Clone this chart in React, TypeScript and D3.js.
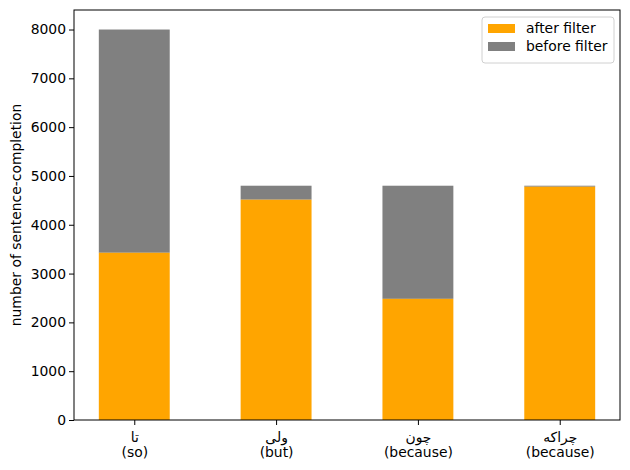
import React, { useEffect, useRef } from 'react';
import * as d3 from 'd3';

const words = ['تا', 'ولی', 'چون', 'چراکه'];
const glosses = ['(so)', '(but)', '(because)', '(because)'];
const afterFilter = [3426, 4513, 2482, 4779];
const beforeFilter = [8000, 4800, 4800, 4800];
const yTicks = [0, 1000, 2000, 3000, 4000, 5000, 6000, 7000, 8000];

const width = 630;
const height = 470;
const marginTop = 10;
const marginRight = 10;
const marginBottom = 50;
const marginLeft = 74;
const font = 'DejaVu Sans, sans-serif';
const fs = '13.9px';

const App = () => {
  const ref = useRef<SVGSVGElement>(null);

  useEffect(() => {
    document.body.style.margin = '0';
    const svg = d3.select(ref.current);
    svg.selectAll('*').remove();

    const idx = words.map((_, i) => i);
    const x = d3.scaleLinear()
      .domain([-0.425, 3.425])
      .range([marginLeft, width - marginRight]);
    const barW = x(0.5) - x(0);

    const y = d3.scaleLinear()
      .domain([0, 8400])
      .range([height - marginBottom, marginTop]);

    // gray: the part removed by the filter
    svg.append('g')
      .attr('fill', '#808080')
      .selectAll('rect')
      .data(idx)
      .join('rect')
      .attr('x', i => x(i) - barW / 2)
      .attr('width', barW)
      .attr('y', i => y(beforeFilter[i]))
      .attr('height', i => y(afterFilter[i]) - y(beforeFilter[i]));

    svg.append('g')
      .attr('fill', '#ffa500')
      .selectAll('rect')
      .data(idx)
      .join('rect')
      .attr('x', i => x(i) - barW / 2)
      .attr('width', barW)
      .attr('y', i => y(afterFilter[i]))
      .attr('height', i => y(0) - y(afterFilter[i]));

    const yAxis = svg.append('g')
      .attr('transform', `translate(${marginLeft},0)`)
      .call(d3.axisLeft(y).tickValues(yTicks).tickFormat(d3.format('d')).tickSize(5).tickPadding(3).tickSizeOuter(0));
    yAxis.select('.domain').remove();
    yAxis.selectAll('text').style('font-family', font).style('font-size', fs).attr('fill', '#000');

    const xAxis = svg.append('g')
      .attr('transform', `translate(0,${height - marginBottom})`)
      .call(d3.axisBottom(x).tickValues(idx).tickSize(5).tickFormat(() => ''));
    xAxis.select('.domain').remove();
    xAxis.selectAll('.tick').each(function (d) {
      const t = d3.select(this).append('text')
        .attr('fill', '#000')
        .attr('text-anchor', 'middle')
        .style('font-family', font)
        .style('font-size', fs);
      t.append('tspan').attr('x', 0).attr('y', 22).text(words[d as number]);
      t.append('tspan').attr('x', 0).attr('y', 37).text(glosses[d as number]);
    });

    svg.append('rect')
      .attr('x', marginLeft)
      .attr('y', marginTop)
      .attr('width', width - marginLeft - marginRight)
      .attr('height', height - marginTop - marginBottom)
      .attr('fill', 'none')
      .attr('stroke', '#000')
      .attr('stroke-width', 1);

    svg.append('text')
      .attr('transform', `translate(21,${(marginTop + height - marginBottom) / 2}) rotate(-90)`)
      .attr('text-anchor', 'middle')
      .style('font-family', font)
      .style('font-size', fs)
      .text('number of sentence-completion');

    // legend
    const lg = svg.append('g').attr('transform', 'translate(482,17)');
    lg.append('rect')
      .attr('width', 132).attr('height', 46).attr('rx', 3)
      .attr('fill', '#fff').attr('fill-opacity', 0.8)
      .attr('stroke', '#d0d0d0');
    const items = [
      { label: 'after filter', color: '#ffa500' },
      { label: 'before filter', color: '#808080' },
    ];
    items.forEach((it, i) => {
      lg.append('rect')
        .attr('x', 6).attr('y', 7 + i * 18)
        .attr('width', 27).attr('height', 9)
        .attr('fill', it.color);
      lg.append('text')
        .attr('x', 44).attr('y', 16 + i * 18)
        .style('font-family', font).style('font-size', fs)
        .text(it.label);
    });
  }, []);

  return <svg ref={ref} width={width} height={height} style={{ display: 'block' }} />;
};

export default App;
